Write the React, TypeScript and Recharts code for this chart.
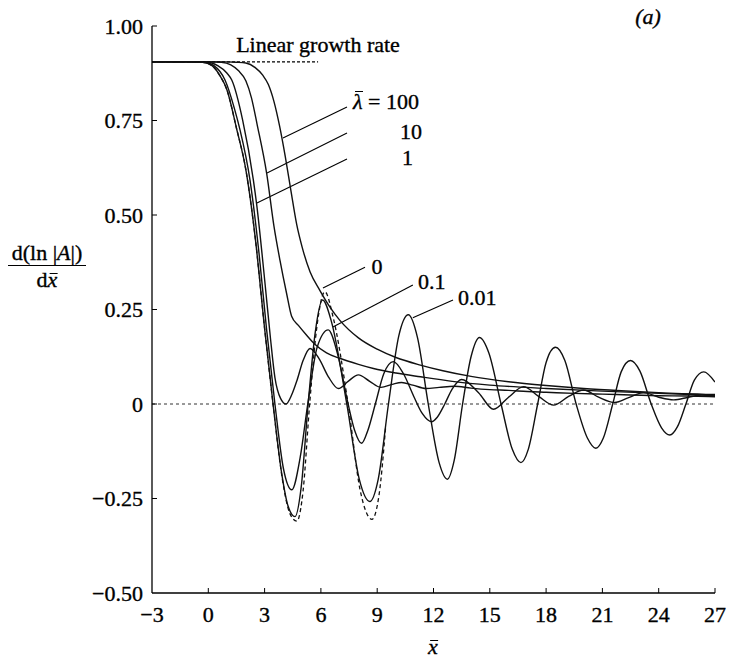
import { LineChart, Line, XAxis, YAxis, ReferenceLine } from "recharts"

const xTicks = [-3, 0, 3, 6, 9, 12, 15, 18, 21, 24, 27]
const yTicks = [-0.5, -0.25, 0, 0.25, 0.5, 0.75, 1]

const growthRate = 0.905
const growthX = [-3, 5.85]

// lambda = 0 (dashed)
const x0 = [-3, -1, -0.3, 0.2, 0.6, 1.0, 1.5, 2.0, 2.5, 3.0, 3.45, 3.95, 4.35, 4.72, 5.05, 5.4, 5.8, 6.21, 6.65, 7.45, 8.1, 8.72, 9.1, 9.45]
const y0 = [0.905, 0.905, 0.904, 0.895, 0.87, 0.83, 0.73, 0.62, 0.44, 0.2, 0.0, -0.2, -0.29, -0.31, -0.23, 0.0, 0.21, 0.297, 0.23, 0.0, -0.23, -0.305, -0.24, -0.06]

// lambda = 0.01
const x001 = [-3, -1, -0.3, 0.2, 0.6, 1.0, 1.5, 2.0, 2.5, 3.0, 3.45, 3.9, 4.25, 4.62, 4.95, 5.32, 5.7, 6.09, 6.55, 7.38, 8.05, 8.61, 9.05, 9.6, 10.15, 10.66, 11.15, 11.72, 12.3, 12.74, 13.1, 13.55, 14.0, 14.45, 14.95, 15.6, 16.2, 16.66, 17.05, 17.55, 18.0, 18.5, 19.0, 19.6, 20.2, 20.65, 21.05, 21.55, 22.0, 22.5, 23.0, 23.6, 24.15, 24.59, 25.0, 25.45, 25.9, 26.4, 27.0]
const y001 = [0.905, 0.905, 0.904, 0.895, 0.87, 0.83, 0.73, 0.62, 0.44, 0.2, 0.0, -0.18, -0.27, -0.298, -0.22, 0.0, 0.19, 0.275, 0.22, 0.0, -0.2, -0.258, -0.2, 0.0, 0.18, 0.236, 0.175, 0.0, -0.155, -0.199, -0.15, 0.0, 0.125, 0.176, 0.135, 0.0, -0.12, -0.155, -0.12, 0.0, 0.11, 0.15, 0.115, 0.0, -0.09, -0.117, -0.09, 0.0, 0.085, 0.115, 0.087, 0.0, -0.063, -0.082, -0.06, 0.0, 0.063, 0.085, 0.058]

// lambda = 0.1
const x01 = [-3, -1, -0.2, 0.3, 0.89, 1.4, 1.69, 2.22, 2.7, 3.1, 3.55, 4.0, 4.45, 4.9, 5.3, 5.8, 6.39, 6.9, 7.45, 7.8, 8.17, 8.5, 8.9, 9.35, 9.86, 10.4, 10.95, 11.4, 11.9, 12.2, 12.6, 13.0, 13.5, 14.4, 15.2, 16.0, 16.8, 17.6, 18.4, 19.2, 20.0, 20.8, 21.66, 22.4, 23.2, 24.0, 24.8, 25.6, 26.3, 27]
const y01 = [0.905, 0.905, 0.904, 0.895, 0.857, 0.78, 0.725, 0.593, 0.4, 0.2, 0.0, -0.17, -0.227, -0.14, 0.0, 0.15, 0.196, 0.13, 0.0, -0.07, -0.104, -0.07, 0.0, 0.08, 0.112, 0.08, 0.02, -0.025, -0.047, -0.035, 0.0, 0.04, 0.065, 0.03, -0.014, 0.018, 0.046, 0.02, -0.003, 0.02, 0.037, 0.018, 0.004, 0.017, 0.03, 0.018, 0.011, 0.018, 0.024, 0.022]

// lambda = 1
const x1 = [-3, -1, 0, 0.5, 1.0, 1.25, 1.83, 2.4, 2.58, 3.0, 3.3, 3.55, 3.85, 4.14, 4.45, 4.73, 5.05, 5.42, 5.9, 6.4, 6.93, 7.45, 8.0, 8.6, 9.2, 9.8, 10.3, 10.9, 11.6, 12.3, 13.1, 14, 15, 16, 17, 18, 19.5, 21, 22.5, 24, 25.5, 27]
const y1 = [0.905, 0.905, 0.904, 0.895, 0.875, 0.857, 0.751, 0.593, 0.527, 0.33, 0.18, 0.07, 0.015, 0.0, 0.025, 0.063, 0.115, 0.147, 0.12, 0.072, 0.041, 0.06, 0.077, 0.06, 0.044, 0.052, 0.057, 0.05, 0.041, 0.044, 0.047, 0.042, 0.038, 0.036, 0.033, 0.031, 0.028, 0.026, 0.024, 0.022, 0.021, 0.019]

// lambda = 10
const x10 = [-3, 0.2, 0.7, 1.2, 1.6, 2.0, 2.3, 2.6, 3.11, 3.5, 3.82, 4.17, 4.44, 4.8, 5.24, 5.68, 6.3, 7.0, 8.0, 8.8, 10, 11.3, 13, 15, 18, 21, 24, 27]
const y10 = [0.905, 0.905, 0.904, 0.897, 0.882, 0.855, 0.81, 0.74, 0.61, 0.47, 0.38, 0.293, 0.232, 0.208, 0.182, 0.158, 0.135, 0.121, 0.105, 0.094, 0.082, 0.072, 0.06, 0.05, 0.041, 0.034, 0.028, 0.023]

// lambda = 100
const x100 = [-3, 1.0, 1.5, 2.0, 2.5, 2.9, 3.2, 3.5, 3.8, 4.1, 4.4, 4.71, 5.0, 5.42, 5.95, 6.5, 7.0, 8.0, 9.0, 10, 11.3, 12.5, 14, 16, 18, 20, 22, 24, 27]
const y100 = [0.905, 0.905, 0.904, 0.902, 0.89, 0.87, 0.845, 0.8, 0.735, 0.655, 0.565, 0.475, 0.415, 0.35, 0.3, 0.255, 0.222, 0.175, 0.145, 0.123, 0.103, 0.088, 0.073, 0.059, 0.049, 0.041, 0.035, 0.03, 0.025]

// leader lines [x1, y1, x2, y2]
const leader100 = [7.39, 0.786, 3.98, 0.704]
const leader10 = [7.39, 0.717, 3.13, 0.611]
const leader1 = [7.39, 0.648, 2.59, 0.532]
const leader0 = [8.35, 0.362, 6.11, 0.307]
const leader01 = [10.9, 0.315, 6.64, 0.204]
const leader001 = [13.04, 0.275, 10.9, 0.228]

const font = "'Liberation Serif', 'DejaVu Serif', serif"

const pts = (xs: number[], ys: number[]) => xs.map((x, i) => ({ x, y: ys[i] }))

const fmtY = (v: number) => (v === 0 ? "0" : (v < 0 ? "\u2212" : "") + Math.abs(v).toFixed(2))
const fmtX = (v: number) => (v < 0 ? "\u2212" : "") + Math.abs(v)

const XTick = (props: any) => {
  const { x, y, payload } = props
  return (
    <g>
      {payload.value > -3 && <line x1={x} x2={x} y1={y} y2={y - 5} stroke="#000" strokeWidth={1} />}
      <text x={x} y={y + 29} textAnchor="middle" fontSize={22} fontFamily={font} fill="#000" stroke="#000" strokeWidth={0.35}>
        {fmtX(payload.value)}
      </text>
    </g>
  )
}

const YTick = (props: any) => {
  const { x, y, payload } = props
  return (
    <g>
      {payload.value > -0.5 && <line x1={x} x2={x + 5} y1={y} y2={y} stroke="#000" strokeWidth={1} />}
      <text x={x - 9} y={y} dy="0.35em" textAnchor="end" fontSize={22} fontFamily={font} fill="#000" stroke="#000" strokeWidth={0.35}>
        {fmtY(payload.value)}
      </text>
    </g>
  )
}

const Txt = ({ left, top, children, center = false, italic = false, size = 22 }: any) => (
  <div
    style={{
      position: "absolute",
      left,
      top,
      transform: center ? "translate(-50%, -50%)" : "translate(0, -50%)",
      fontSize: size,
      lineHeight: 1,
      whiteSpace: "nowrap",
      fontStyle: italic ? "italic" : "normal",
      fontFamily: font,
      color: "#000",
      WebkitTextStroke: "0.35px #000",
    }}
  >
    {children}
  </div>
)

// letter with a bar over it
const Bar = ({ ch, top = "0.02em" }: { ch: string; top?: string }) => (
  <span style={{ position: "relative", display: "inline-block", fontStyle: "italic" }}>
    {ch}
    <span style={{ position: "absolute", left: "22%", right: "0%", top, borderTop: "1.4px solid #000" }} />
  </span>
)

const Leader = ({ seg }: { seg: number[] }) => (
  <ReferenceLine
    segment={[
      { x: seg[0], y: seg[1] },
      { x: seg[2], y: seg[3] },
    ]}
    stroke="#000"
    strokeWidth={1.1}
  />
)

export default function App() {
  const lineProps = {
    dataKey: "y",
    type: "monotone" as const,
    dot: false,
    stroke: "#111",
    strokeWidth: 1.4,
    isAnimationActive: false,
  }
  return (
    <div style={{ position: "absolute", left: 0, top: 0, width: 729, height: 661, background: "#fff", fontFamily: font }}>
      <LineChart width={729} height={661} margin={{ top: 26, right: 14, left: 0, bottom: 0 }}>
        <XAxis
          dataKey="x"
          type="number"
          domain={[-3, 27]}
          ticks={xTicks}
          interval={0}
          allowDataOverflow
          height={68}
          tickSize={0}
          tickMargin={0}
          tickLine={false}
          tick={<XTick />}
          axisLine={{ stroke: "#000", strokeWidth: 1.3 }}
        />
        <YAxis
          type="number"
          domain={[-0.5, 1]}
          ticks={yTicks}
          interval={0}
          allowDataOverflow
          width={152}
          tickSize={0}
          tickMargin={0}
          tickLine={false}
          tick={<YTick />}
          axisLine={{ stroke: "#000", strokeWidth: 1.3 }}
        />
        <ReferenceLine y={0} stroke="#333" strokeWidth={1} strokeDasharray="3 3" />
        <ReferenceLine
          segment={[
            { x: growthX[0], y: growthRate },
            { x: growthX[1], y: growthRate },
          ]}
          stroke="#000"
          strokeWidth={1.1}
          strokeDasharray="3 2"
        />
        <Leader seg={leader100} />
        <Leader seg={leader10} />
        <Leader seg={leader1} />
        <Leader seg={leader0} />
        <Leader seg={leader01} />
        <Leader seg={leader001} />
        <Line {...lineProps} data={pts(x100, y100)} />
        <Line {...lineProps} data={pts(x10, y10)} />
        <Line {...lineProps} data={pts(x1, y1)} />
        <Line {...lineProps} data={pts(x01, y01)} />
        <Line {...lineProps} data={pts(x001, y001)} />
        <Line {...lineProps} data={pts(x0, y0)} strokeDasharray="4 3" strokeWidth={1.3} />
      </LineChart>

      <Txt left={318} top={45} center>Linear growth rate</Txt>
      <Txt left={353} top={102}>
        <Bar ch={"\u03BB"} /> = 100
      </Txt>
      <Txt left={400} top={132}>10</Txt>
      <Txt left={402} top={158}>1</Txt>
      <Txt left={377} top={267} center>0</Txt>
      <Txt left={418} top={282}>0.1</Txt>
      <Txt left={458} top={298}>0.01</Txt>
      <Txt left={648} top={17} center italic>(a)</Txt>
      <Txt left={433} top={647} center>
        <Bar ch="x" top="0.2em" />
      </Txt>

      <Txt left={47} top={253} center>
        d(ln |<i>A</i>|)
      </Txt>
      <div style={{ position: "absolute", left: 8, top: 265, width: 78, borderTop: "1.3px solid #000" }} />
      <Txt left={47} top={280} center>
        d<Bar ch="x" top="0.2em" />
      </Txt>
    </div>
  )
}
